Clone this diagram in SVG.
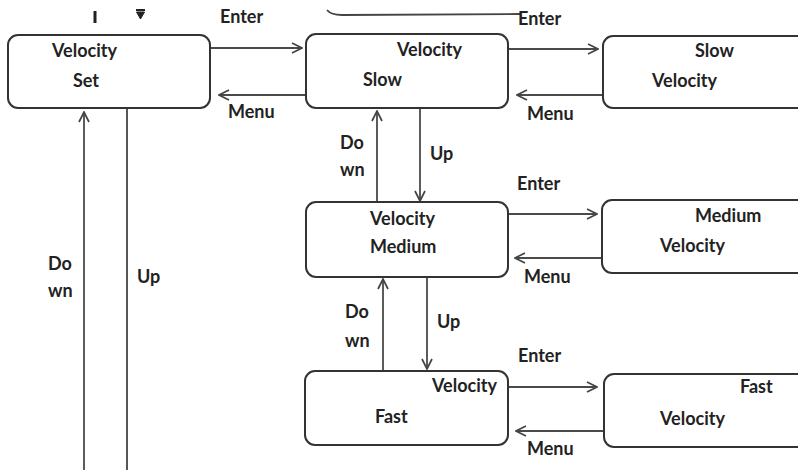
<svg xmlns="http://www.w3.org/2000/svg" width="798" height="470" viewBox="0 0 798 470">
<defs>
<marker id="ah" viewBox="0 0 12 12" refX="11" refY="6" markerWidth="12" markerHeight="12" markerUnits="userSpaceOnUse" orient="auto">
<path d="M1,1 L11,6 L1,11" fill="none" stroke="#444" stroke-width="1.7"/>
</marker>
<style>
.box{fill:#fff;stroke:#333;stroke-width:2}
.t{font-family:Lato,"Open Sans","Liberation Sans",sans-serif;font-weight:bold;font-size:18px;fill:#222}
.c{fill:none;stroke:#444;stroke-width:1.8}
.a{fill:none;stroke:#4a4a4a;stroke-width:1.8;marker-end:url(#ah)}
</style>
</defs>
<rect width="798" height="470" fill="#fff"/>
<g id="connectors">
<path d="M95,11 V23" fill="none" stroke="#222" stroke-width="3"/>
<path d="M136,10 H145" fill="none" stroke="#222" stroke-width="2"/>
<path d="M136.5,12 L140.5,19 L144.5,12 Z" fill="#222" stroke="#222" stroke-width="1"/>
<path class="c" d="M327,10 Q331,15 342,15 L520,14" stroke="#333" stroke-width="2.2"/>
<path class="a" d="M210,48 H302"/>
<path class="a" d="M306,95 H219"/>
<path class="a" d="M508,49 H598"/>
<path class="a" d="M603,95 H517"/>
<path class="a" d="M420,108 V201"/>
<path class="a" d="M377,202 V111"/>
<path class="a" d="M508,214 H597"/>
<path class="a" d="M601,258 H515"/>
<path class="a" d="M427,277 V369"/>
<path class="a" d="M383,371 V279"/>
<path class="a" d="M508,387 H597"/>
<path class="a" d="M603,431 H516"/>
<path class="a" d="M84,470 V112"/>
<path class="c" d="M127,108 V470"/>
</g>
<g id="node-velocity-set">
<rect class="box" x="8" y="35" width="202" height="73" rx="10"/>
<text class="t" x="52" y="57">Velocity</text>
<text class="t" x="73" y="87">Set</text>
</g>
<g id="node-velocity-slow">
<rect class="box" x="306" y="34" width="202" height="74" rx="10"/>
<text class="t" x="397" y="56">Velocity</text>
<text class="t" x="363" y="86">Slow</text>
</g>
<g id="node-slow-velocity">
<rect class="box" x="603" y="36" width="205" height="72" rx="10"/>
<text class="t" x="695" y="57">Slow</text>
<text class="t" x="652" y="87">Velocity</text>
</g>
<g id="node-velocity-medium">
<rect class="box" x="306" y="202" width="202" height="75" rx="10"/>
<text class="t" x="370" y="225">Velocity</text>
<text class="t" x="370" y="253">Medium</text>
</g>
<g id="node-medium-velocity">
<rect class="box" x="602" y="200" width="206" height="73" rx="10"/>
<text class="t" x="695" y="222">Medium</text>
<text class="t" x="660" y="252">Velocity</text>
</g>
<g id="node-velocity-fast">
<rect class="box" x="305" y="371" width="203" height="74" rx="10"/>
<text class="t" x="432" y="392">Velocity</text>
<text class="t" x="375" y="423">Fast</text>
</g>
<g id="node-fast-velocity">
<rect class="box" x="604" y="374" width="204" height="73" rx="10"/>
<text class="t" x="740" y="393">Fast</text>
<text class="t" x="660" y="425">Velocity</text>
</g>
<g id="labels">
<text class="t" x="220" y="23">Enter</text>
<text class="t" x="228" y="118">Menu</text>
<text class="t" x="518" y="25">Enter</text>
<text class="t" x="527" y="120">Menu</text>
<text class="t" x="517" y="190">Enter</text>
<text class="t" x="524" y="283">Menu</text>
<text class="t" x="518" y="362">Enter</text>
<text class="t" x="527" y="455">Menu</text>
<text class="t" x="430" y="160">Up</text>
<text class="t" x="340" y="149">Do</text>
<text class="t" x="340" y="176">wn</text>
<text class="t" x="437" y="328">Up</text>
<text class="t" x="345" y="318">Do</text>
<text class="t" x="345" y="347">wn</text>
<text class="t" x="48" y="270">Do</text>
<text class="t" x="48" y="297">wn</text>
<text class="t" x="137" y="283">Up</text>
</g>
</svg>
